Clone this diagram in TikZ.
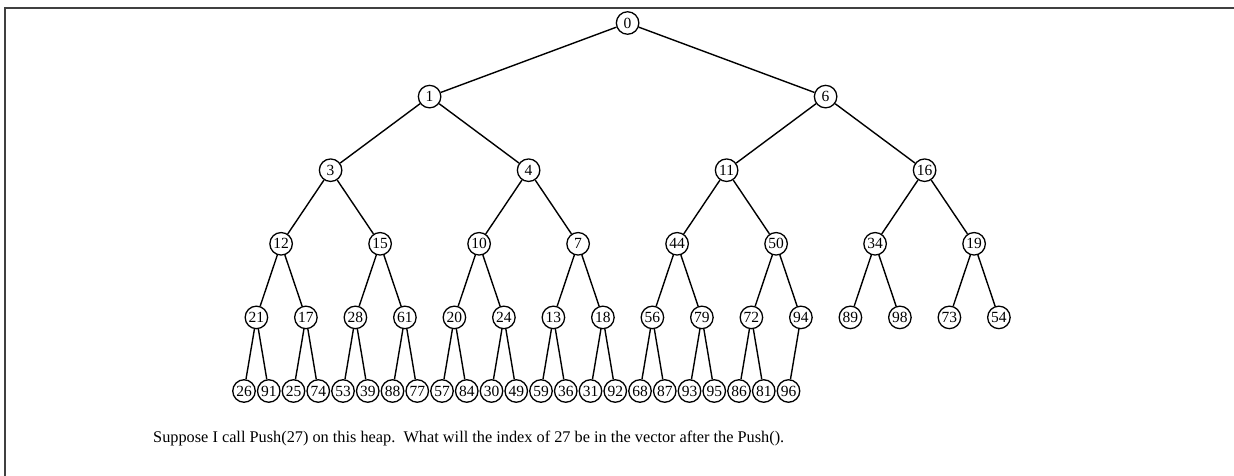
\documentclass[tikz,border=0pt]{standalone}
\usepackage{fontspec}
\setmainfont{Liberation Serif}
\begin{document}
\begin{tikzpicture}[x=1pt,y=-1pt,
  hn/.style={circle,draw,line width=1.3pt,minimum size=22.5pt,inner sep=0pt,font=\fontsize{15.5}{15.5}\selectfont},
  edge/.style={line width=1.4pt},
  frame/.style={line width=1.8pt,black!75}]
\useasboundingbox (0,0) rectangle (1234,476);
\draw[frame] (5,476) -- (5,8) -- (1234,8);
% level 0
\node[hn] (n0-0) at (627.6,23) {0};
% level 1
\foreach \lab [count=\j from 0] in {1,6}
  \node[hn] (n1-\j) at ({429.6+396*\j},96.6) {\lab};
% level 2
\foreach \lab [count=\j from 0] in {3,4,11,16}
  \node[hn] (n2-\j) at ({330.6+198*\j},170.2) {\lab};
% level 3
\foreach \lab [count=\j from 0] in {12,15,10,7,44,50,34,19}
  \node[hn] (n3-\j) at ({281.1+99*\j},243.8) {\lab};
% level 4
\foreach \lab [count=\j from 0] in {21,17,28,61,20,24,13,18,56,79,72,94,89,98,73,54}
  \node[hn] (n4-\j) at ({256.4+49.5*\j},317.4) {\lab};
% level 5
\foreach \lab [count=\j from 0] in {26,91,25,74,53,39,88,77,57,84,30,49,59,36,31,92,68,87,93,95,86,81,96}
  \node[hn] (n5-\j) at ({244+24.75*\j},391) {\lab};
% edges
\foreach \j in {0,1} \draw[edge] (n0-0) -- (n1-\j);
\foreach \j [evaluate=\j as \p using {int(\j/2)}] in {0,...,3} \draw[edge] (n1-\p) -- (n2-\j);
\foreach \j [evaluate=\j as \p using {int(\j/2)}] in {0,...,7} \draw[edge] (n2-\p) -- (n3-\j);
\foreach \j [evaluate=\j as \p using {int(\j/2)}] in {0,...,15} \draw[edge] (n3-\p) -- (n4-\j);
\foreach \j [evaluate=\j as \p using {int(\j/2)}] in {0,...,22} \draw[edge] (n4-\p) -- (n5-\j);
\node[anchor=base west,inner sep=0pt,font=\fontsize{16.3}{16.3}\selectfont] (q) at (153,442)
  {Suppose I call Push(27) on this heap.\ \ What will the index of 27 be in the vector after the Push().};
\end{tikzpicture}
\end{document}
